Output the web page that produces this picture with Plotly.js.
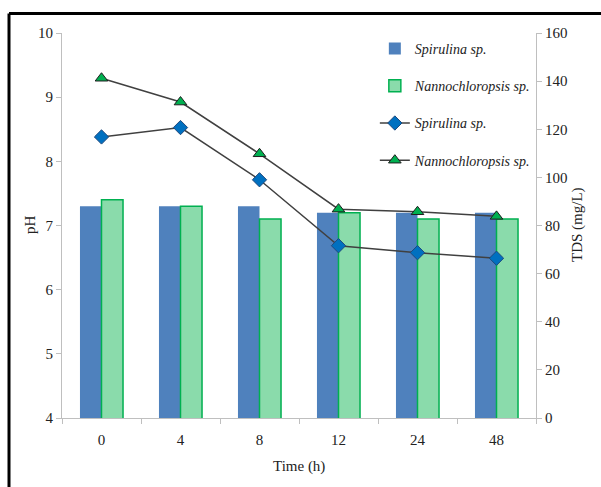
<!DOCTYPE html>
<html>
<head>
<meta charset="utf-8">
<script src="https://cdn.plot.ly/plotly-3.0.1.min.js"></script>
<style>html,body{margin:0;padding:0;background:#fff;}#chart{width:601px;height:487px;}</style>
</head>
<body>
<div id="chart"></div>
<script>
const categories = ['0', '4', '8', '12', '24', '48'];
const phSpirulina = [7.3, 7.3, 7.3, 7.2, 7.2, 7.2];
const phNanno = [7.4, 7.3, 7.1, 7.2, 7.1, 7.1];
const tdsSpirulina = [116.8, 120.7, 99.0, 71.6, 68.7, 66.4];
const tdsNanno = [141.2, 131.3, 109.8, 86.8, 85.7, 83.8];
const seriesNames = ['Spirulina sp.', 'Nannochloropsis sp.'];
const axisTitles = {x: 'Time (h)', y: 'pH', y2: 'TDS (mg/L)'};

const fontFam = 'Liberation Serif, Times New Roman, serif';

const traces = [
  {type: 'bar', x: categories, y: phSpirulina, name: '<i>' + seriesNames[0] + '</i>',
   marker: {color: '#4F81BD', line: {color: '#4F81BD', width: 0}}, legendgroup: 'a', yaxis: 'y'},
  {type: 'bar', x: categories, y: phNanno, name: '<i>' + seriesNames[1] + '</i>',
   marker: {color: '#8ADBAB', line: {color: '#00B050', width: 1.5}}, legendgroup: 'b', yaxis: 'y'},
  {type: 'scatter', mode: 'lines+markers', x: categories, y: tdsSpirulina, name: '<i>' + seriesNames[0] + '</i>',
   line: {color: '#404040', width: 1.5},
   marker: {symbol: 'diamond', size: 11, color: '#0070C0', line: {color: '#1F497D', width: 1}},
   legendgroup: 'c', yaxis: 'y2'},
  {type: 'scatter', mode: 'lines+markers', x: categories, y: tdsNanno, name: '<i>' + seriesNames[1] + '</i>',
   line: {color: '#404040', width: 1.5},
   marker: {symbol: 'triangle-up', size: 11, color: '#00B050', line: {color: '#1E1E1E', width: 1}},
   legendgroup: 'd', yaxis: 'y2'}
];

const layout = {
  width: 601, height: 487,
  margin: {l: 62, r: 65, t: 33, b: 69},
  paper_bgcolor: '#fff', plot_bgcolor: '#fff',
  font: {family: fontFam, size: 15, color: '#222'},
  barmode: 'group', bargap: 0.455, bargroupgap: 0,
  showlegend: true,
  legend: {x: 0.66, y: 1.0, xanchor: 'left', yanchor: 'top', bgcolor: 'rgba(0,0,0,0)',
           font: {family: fontFam, size: 14, color: '#222'}, tracegroupgap: 16, traceorder: 'grouped'},
  xaxis: {type: 'category', showline: true, linecolor: '#BFBFBF', linewidth: 1,
          ticks: 'outside', tickson: 'boundaries', ticklen: 5, tickcolor: '#BFBFBF',
          showgrid: false, zeroline: false, tickfont: {size: 15}, ticklabelstandoff: 8,
          automargin: false},
  yaxis: {range: [4, 10], dtick: 1, showline: true, linecolor: '#BFBFBF', linewidth: 1,
          ticks: 'outside', ticklen: 5, tickcolor: '#BFBFBF', showgrid: false, zeroline: false,
          tickfont: {size: 15}, automargin: false},
  yaxis2: {range: [0, 160], dtick: 20, overlaying: 'y', side: 'right', showline: true,
           linecolor: '#BFBFBF', linewidth: 1, ticks: 'outside', ticklen: 5, tickcolor: '#BFBFBF',
           showgrid: false, zeroline: false, tickfont: {size: 15}, automargin: false},
  annotations: [
    {text: axisTitles.x, xref: 'paper', yref: 'paper', x: 0.5, y: (418 - 466) / 385,
     showarrow: false, font: {size: 15}, xanchor: 'center', yanchor: 'middle'},
    {text: axisTitles.y, xref: 'paper', yref: 'paper', x: (30 - 62) / 474, y: (418 - 225) / 385,
     showarrow: false, font: {size: 15}, textangle: -90, xanchor: 'center', yanchor: 'middle'},
    {text: axisTitles.y2, xref: 'paper', yref: 'paper', x: (577 - 62) / 474, y: (418 - 225) / 385,
     showarrow: false, font: {size: 15}, textangle: -90, xanchor: 'center', yanchor: 'middle'}
  ],
  shapes: [
    {type: 'line', xref: 'paper', yref: 'paper', x0: -0.1118, x1: 1.2, y0: 1.0506, y1: 1.0506,
     line: {color: '#000', width: 3}},
    {type: 'line', xref: 'paper', yref: 'paper', x0: -0.1118, x1: -0.1118, y0: 1.0506, y1: -0.25,
     line: {color: '#000', width: 3}}
  ]
};

Plotly.newPlot('chart', traces, layout, {displayModeBar: false, staticPlot: true});
</script>
</body>
</html>
